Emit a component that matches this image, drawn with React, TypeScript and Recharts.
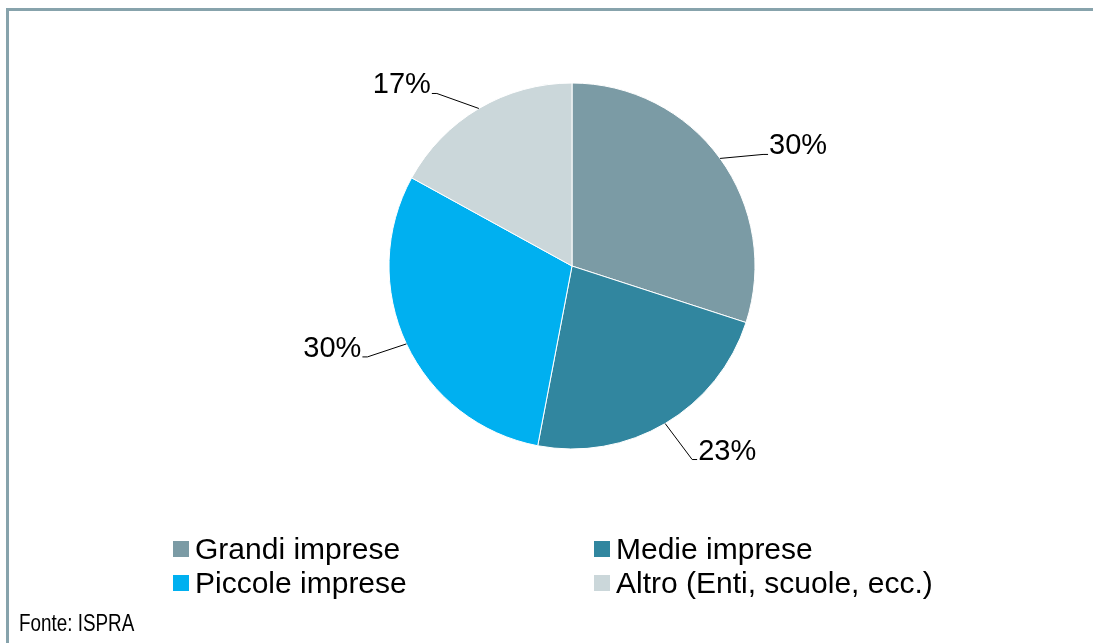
import React from 'react';
import { PieChart, Pie, Cell, Legend } from 'recharts';

const categories = ['Grandi imprese', 'Medie imprese', 'Piccole imprese', 'Altro (Enti, scuole, ecc.)'];
const shares = [30, 23, 30, 17];
const colors = ['#7b9ba5', '#31869f', '#00b0f0', '#cbd7da'];

// label leader offsets from the slice edge (dx, dy), per slice
const labelOffsets = [
  [43, -4],
  [27, 36],
  [-39, 13],
  [-42, -15],
];

const data = categories.map((name, i) => ({ name, value: shares[i] }));

const RADIAN = Math.PI / 180;
const font = '"Liberation Sans", Arial, sans-serif';

const renderLabel = (props: any) => {
  const { cx, cy, midAngle, outerRadius, index, value } = props;
  const sx = cx + outerRadius * Math.cos(-midAngle * RADIAN);
  const sy = cy + outerRadius * Math.sin(-midAngle * RADIAN);
  const [dx, dy] = labelOffsets[index];
  const ex = sx + dx;
  const ey = sy + dy;
  const right = dx > 0;
  const hx = ex + (right ? 5 : -5);
  return (
    <g key={`lbl-${index}`}>
      <polyline points={`${sx},${sy} ${ex},${ey} ${hx},${ey}`} fill="none" stroke="#000" strokeWidth={1} />
      <text
        x={right ? hx + 1 : hx - 1}
        y={ey}
        textAnchor={right ? 'start' : 'end'}
        fill="#000"
        fontSize={29}
        fontFamily={font}
      >
        {`${value}%`}
      </text>
    </g>
  );
};

const renderLegend = () => (
  <div
    style={{
      display: 'grid',
      gridTemplateColumns: '421px 400px',
      rowGap: 4,
      fontFamily: font,
      fontSize: 30,
      color: '#000',
      lineHeight: '30px',
    }}
  >
    {categories.map((name, i) => (
      <div key={name} style={{ display: 'flex', alignItems: 'center', whiteSpace: 'nowrap' }}>
        <span style={{ width: 16, height: 16, background: colors[i], display: 'inline-block', marginRight: 6 }} />
        <span>{name}</span>
      </div>
    ))}
  </div>
);

export default function App() {
  return (
    <div>
      <div
        style={{
          position: 'fixed',
          left: 6,
          top: 8,
          width: 1200,
          height: 800,
          border: '3px solid #87a3ac',
          boxSizing: 'border-box',
        }}
      />
      <div style={{ position: 'fixed', left: 0, top: 0 }}>
        <PieChart width={1093} height={643} margin={{ top: 0, right: 0, bottom: 0, left: 0 }}>
          <Pie
            data={data}
            dataKey="value"
            nameKey="name"
            cx={572}
            cy={266}
            outerRadius={183}
            startAngle={90}
            endAngle={-270}
            stroke="#ffffff"
            strokeWidth={1}
            label={renderLabel}
            labelLine={false}
            isAnimationActive={false}
          >
            {data.map((d, i) => (
              <Cell key={`cell-${i}`} fill={colors[i]} />
            ))}
          </Pie>
          <Legend
            content={renderLegend}
            wrapperStyle={{ position: 'absolute', left: 173, top: 534, width: 900 }}
          />
        </PieChart>
      </div>
      <div
        style={{
          position: 'fixed',
          left: 19,
          top: 609,
          fontFamily: font,
          fontSize: 23,
          color: '#000',
          lineHeight: '28px',
          whiteSpace: 'nowrap',
          transform: 'scaleX(0.82)',
          transformOrigin: 'left top',
        }}
      >
        Fonte: ISPRA
      </div>
    </div>
  );
}
